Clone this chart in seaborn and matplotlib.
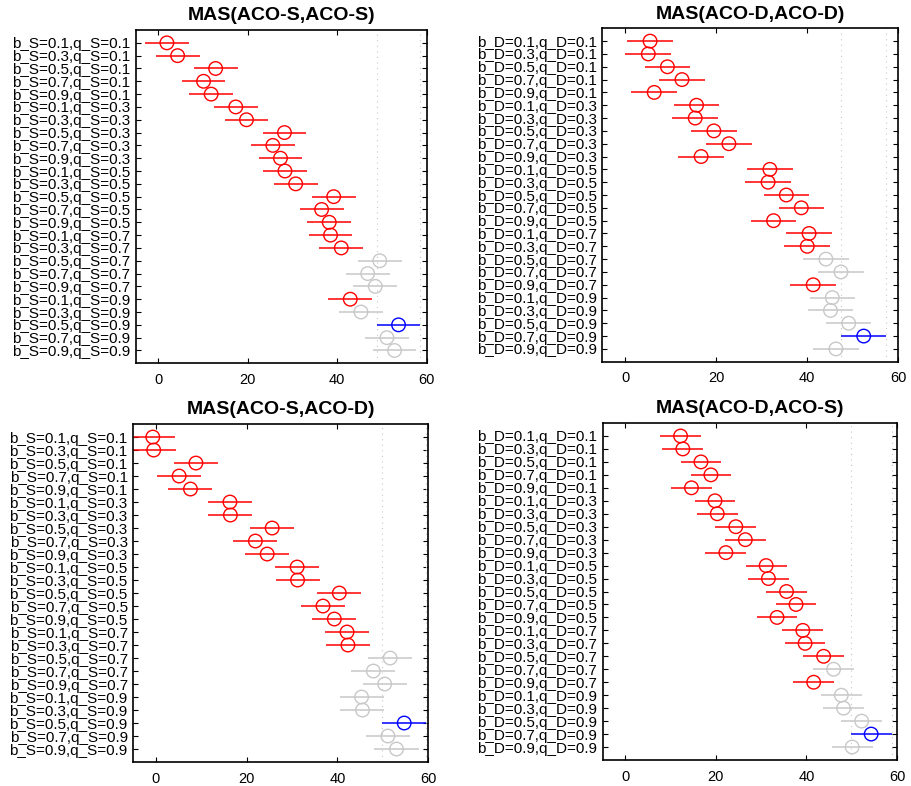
import matplotlib
matplotlib.use("Agg")
import matplotlib.pyplot as plt
import numpy as np
import pandas as pd
import seaborn as sns

# Parameter grid: b varies fastest, then q
b_vals = ["0.1", "0.3", "0.5", "0.7", "0.9"]
q_vals = ["0.1", "0.3", "0.5", "0.7", "0.9"]
labels_S = [f"b_S={b},q_S={q}" for q in q_vals for b in b_vals]
labels_D = [f"b_D={b},q_D={q}" for q in q_vals for b in b_vals]

# Estimated group means for each comparison
means_SS = [1.9, 4.3, 12.8, 10.1, 11.8, 17.3, 19.7, 28.2, 25.6, 27.3,
            28.3, 30.7, 39.2, 36.5, 38.2, 38.5, 40.9, 49.5, 46.8, 48.5,
            42.9, 45.3, 53.7, 51.1, 52.8]
means_DD = [5.5, 5.1, 9.3, 12.5, 6.4, 15.7, 15.4, 19.5, 22.8, 16.7,
            31.8, 31.4, 35.4, 38.7, 32.6, 40.4, 40.0, 44.1, 47.4, 41.3,
            45.5, 45.1, 49.1, 52.4, 46.3]
means_SD = [-0.7, -0.5, 8.8, 5.1, 7.6, 16.3, 16.4, 25.6, 21.9, 24.5,
            31.1, 31.2, 40.4, 36.8, 39.3, 42.1, 42.3, 51.6, 47.9, 50.4,
            45.3, 45.5, 54.7, 51.1, 53.0]
means_DS = [12.2, 12.7, 16.7, 18.9, 14.6, 19.8, 20.3, 24.4, 26.5, 22.2,
            31.1, 31.6, 35.6, 37.7, 33.5, 39.2, 39.7, 43.8, 46.0, 41.6,
            47.7, 48.2, 52.2, 54.3, 50.1]

# Comparison-interval half widths and the selected (reference) group
half_widths = [4.9, 5.0, 4.85, 4.5]
selected = [22, 23, 22, 23]

titles = ["MAS(ACO-S,ACO-S)", "MAS(ACO-D,ACO-D)",
          "MAS(ACO-S,ACO-D)", "MAS(ACO-D,ACO-S)"]
all_means = [means_SS, means_DD, means_SD, means_DS]
all_labels = [labels_S, labels_D, labels_S, labels_D]

x_ticks = [0, 20, 40, 60]
x_range = (-5, 60)

sns.set_theme(style="white")
plt.rcParams["font.family"] = ["Liberation Sans", "DejaVu Sans"]
plt.rcParams["text.color"] = "black"

palette = {"selected": "#0000ff", "different": "#ff0000", "same": "#c8c8c8"}

fig = plt.figure(figsize=(9.11, 7.86), dpi=100)
boxes = [
    [0.1493, 0.5378, 0.3191, 0.4240],
    [0.6611, 0.5398, 0.3250, 0.4242],
    [0.1463, 0.0305, 0.3238, 0.4300],
    [0.6616, 0.0331, 0.3230, 0.4287],
]

for box, title, means, labels, hw, sel in zip(boxes, titles, all_means,
                                             all_labels, half_widths, selected):
    ax = fig.add_axes(box)
    means = np.asarray(means, dtype=float)
    lo, hi = means - hw, means + hw
    sel_lo, sel_hi = lo[sel], hi[sel]
    status = []
    for i in range(len(means)):
        if i == sel:
            status.append("selected")
        elif hi[i] < sel_lo or lo[i] > sel_hi:
            status.append("different")
        else:
            status.append("same")
    df = pd.DataFrame({"label": labels, "mean": means, "lo": lo, "hi": hi,
                       "status": status, "row": np.arange(len(means))})

    # bounds of the selected group's interval
    for xv in (sel_lo, sel_hi):
        ax.axvline(xv, color="#c8c8c8", linestyle=(0, (1, 4)), lw=0.8, zorder=1)

    ax.hlines(df["row"], df["lo"], df["hi"],
              colors=[palette[s] for s in df["status"]], lw=1.1, zorder=2)

    sns.scatterplot(data=df, x="mean", y="row", hue="status", palette=palette,
                    s=95, marker="o", linewidth=1.0, legend=False, ax=ax,
                    zorder=3)
    coll = ax.collections[-1]
    coll.set_edgecolors(coll.get_facecolors())
    coll.set_facecolors("none")

    ax.set_xlim(*x_range)
    ax.set_ylim(len(means), -1)
    ax.set_xticks(x_ticks)
    ax.set_yticks(df["row"])
    ax.set_yticklabels(labels)
    ax.set_xlabel("")
    ax.set_ylabel("")
    ax.tick_params(axis="x", direction="in", length=3.5, width=0.8,
                   top=True, bottom=True, labelsize=10.5, pad=7,
                   colors="black")
    ax.tick_params(axis="y", direction="in", length=3.5, width=0.8,
                   left=True, right=True, labelsize=11, pad=4,
                   colors="black")
    for sp in ax.spines.values():
        sp.set_visible(True)
        sp.set_color("black")
        sp.set_linewidth(1.2)
    ax.set_title(title, fontsize=14, fontweight="bold", pad=7, color="black")

fig.savefig("out.png", dpi=100)
